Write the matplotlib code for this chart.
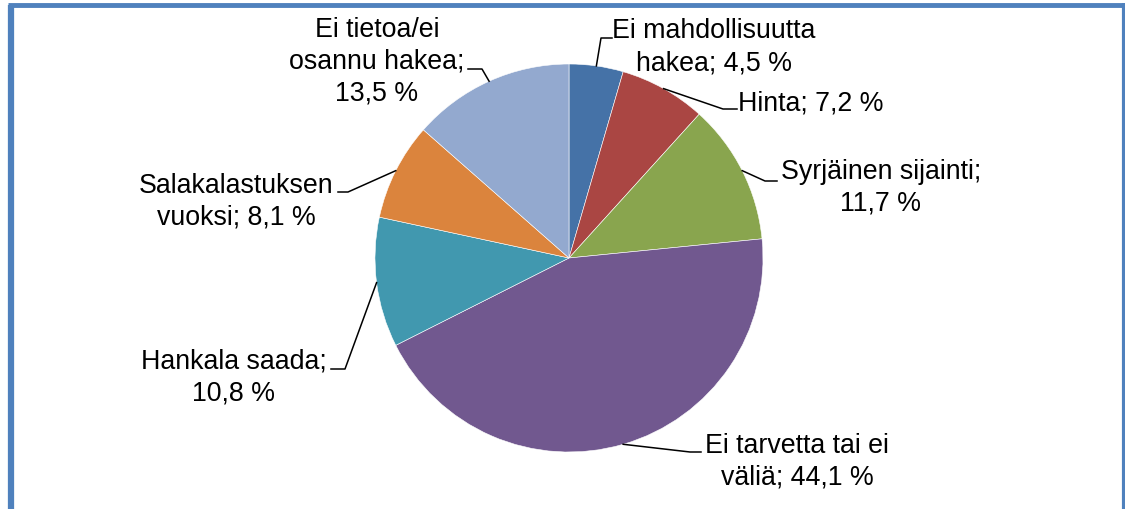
import numpy as np
import matplotlib
matplotlib.use("Agg")
import matplotlib.pyplot as plt

# ____________________________________________________________________
# DATA

labels = ["Ei mahdollisuutta\nhakea", "Hinta", "Syrjäinen sijainti;\n", "Ei tarvetta tai ei\nväliä",
          "Hankala saada;\n", "Salakalastuksen\nvuoksi", "Ei tietoa/ei\nosannu hakea;\n"]
values = [4.5, 7.2, 11.7, 44.1, 10.8, 8.1, 13.5]
colours = ["#4572A7", "#AA4643", "#89A54E", "#71588F", "#4198AF", "#DB843D", "#93A9CF"]

# ____________________________________________________________________
# LAYOUT (pixel coords, y from top)

W, H = 1125, 510
cx, cy, r = 569, 259, 194
label_pos = [(714, 47), (811, 103), (881, 188), (797, 462), (234, 377), (236, 202), (377, 62)]
elbow = [((601, 39), (612, 39)), ((723, 110), (737, 110)), ((765, 182), (777, 182)),
         ((690, 453), (701, 453)), ((345, 370), (331, 370)), ((348, 193), (338, 193)),
         ((482, 70), (468, 70))]

plt.rcParams['font.family'] = ['Liberation Sans', 'DejaVu Sans']

fig = plt.figure(figsize=(W / 100, H / 100), dpi=100)
ax = fig.add_axes([0, 0, 1, 1])

wedges, _ = ax.pie(values, colors=colours, startangle=90, counterclock=False,
                   center=(cx, H - cy), radius=r, frame=True,
                   wedgeprops=dict(edgecolor='white', linewidth=0.4))
ax.set_xlim(0, W)
ax.set_ylim(0, H)
ax.set_aspect('equal')
ax.axis('off')

for w, lab, v, pos, (e1, e2) in zip(wedges, labels, values, label_pos, elbow):
    mid = np.deg2rad((w.theta1 + w.theta2) / 2)
    sx = cx + r * np.cos(mid)
    sy = (H - cy) + r * np.sin(mid)
    ax.plot([sx, e1[0], e2[0]], [sy, H - e1[1], H - e2[1]], color='black', lw=1.1)
    txt = lab + ("" if lab.endswith("\n") else "; ") + ("%.1f %%" % v).replace(".", ",")
    ax.text(pos[0], H - pos[1], txt, ha='center', va='center', multialignment='center',
            fontsize=19.3, linespacing=1.3, color='black')

# blue frame
border = "#4F81BD"
ax.plot([10.5, 10.5], [0, H - 5.5], color=border, lw=4.5, solid_capstyle='butt')
ax.plot([8, 1125], [H - 5.5, H - 5.5], color=border, lw=3.5, solid_capstyle='butt')
ax.plot([1124, 1124], [0, H - 4], color=border, lw=3, solid_capstyle='butt')

fig.savefig("out.png", dpi=100)
